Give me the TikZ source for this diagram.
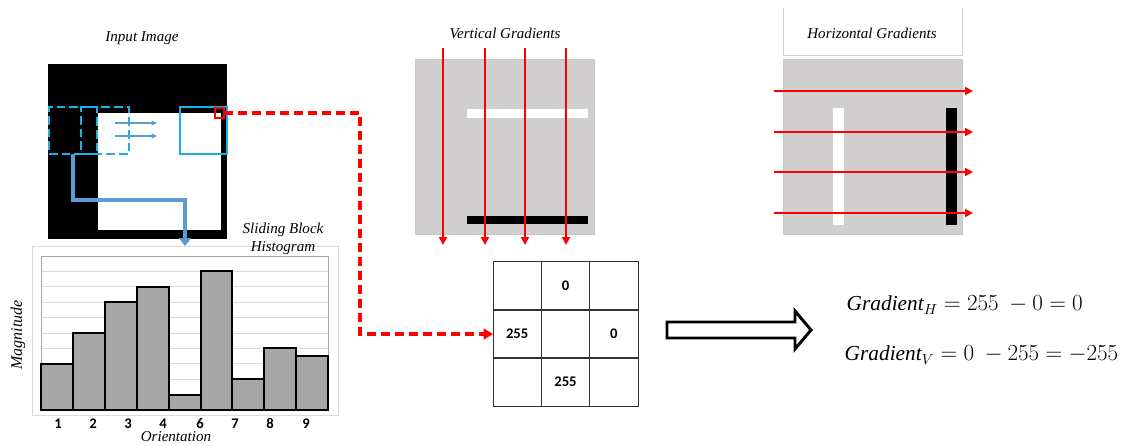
\documentclass[tikz,border=0pt]{standalone}
\usepackage{fontspec}
\setmainfont{Liberation Serif}
\newfontfamily\numfont{Carlito}
\usetikzlibrary{arrows.meta,fit}
\definecolor{cyanbox}{HTML}{1AB0EA}
\definecolor{steel}{HTML}{5B9BD5}
\definecolor{panelgray}{HTML}{D0CECE}
\definecolor{barfill}{HTML}{A6A6A6}
\definecolor{gridline}{HTML}{D9D9D9}

\begin{document}
\begin{tikzpicture}[x=0.75pt,y=-0.75pt,
  title/.style={font=\fontsize{11.3}{13.5}\selectfont\itshape},
  numlabel/.style={font=\numfont\bfseries\fontsize{11}{13}\selectfont},
  area/.style={inner sep=0pt, outer sep=0pt},
  redarrow/.style={red, line width=1.6pt, -{Triangle[length=6pt,width=6pt]}},
  window/.style={area, draw=cyanbox, line width=1.7pt},
  cell/.style={draw=black!80, line width=0.6pt, minimum size=36.2pt, inner sep=0pt, outer sep=0pt, numlabel},
  eq/.style={anchor=west, font=\fontsize{16}{19}\selectfont},
  ]
\useasboundingbox (0,0) rectangle (1124,446);

% ---------- input image ----------
\node[title] (tin) at (142,38) {Input Image};
\node[area, fit={(48,64)(227,239)}, fill=black] (inimg) {};
\node[area, fit={(98,113)(221,230)}, fill=white] (inwhite) {};
\node[window, dash pattern=on 6.5pt off 3pt, fit={(49,107)(97,154)}] (win1) {};
\node[window, dash pattern=on 6.5pt off 3pt, fit={(81,107)(129,154)}] (win2) {};
\node[window, fit={(180,107)(227,154)}] (win3) {};
\node[area, fit={(215,108)(224,118)}, draw=red, line width=1.2pt] (redpx) {};
\foreach \yy in {123,136}
  \draw[steel, line width=0.8pt, -{Triangle[length=4pt,width=3.5pt]}] (115,\yy) -- (157,\yy);

% ---------- histogram ----------
\node[area, fit={(32,246)(338,415)}, draw=gridline, line width=0.75pt] (histframe) {};
\foreach \k in {1,...,9}
  \draw[gridline, line width=0.75pt] (41,{410-\k*15.4}) -- (328,{410-\k*15.4});
\draw[gray!70, line width=0.6pt] (41,256) rectangle (328,410);
\foreach \h [count=\i from 0] in {3,5,7,8,1,9,2,4,3.5}
  \draw[fill=barfill, line width=1.5pt] ({41+\i*31.9},410) rectangle ({41+(\i+1)*31.9},{410-\h*15.4});
\foreach \lab/\xx in {1/58,2/93,3/128,4/163,6/200,7/235,8/270,9/306}
  \node[numlabel, anchor=base] (hl\lab) at (\xx,428) {\lab};
\node[title] (torient) at (176,437) {Orientation};
\node[title, rotate=90, font=\fontsize{12}{14}\selectfont\itshape] (tmag) at (18,335) {Magnitude};
\node[title, align=center] (thist) at (283,239) {Sliding Block\\Histogram};

% sliding window to histogram
\coordinate (bendB) at (185,200);
\draw[steel, line width=3pt, -{Triangle[length=6pt,width=9pt]}]
  (win1.south) |- (bendB) -- (bendB |- histframe.north);

% ---------- vertical gradients ----------
\node[title] (tvert) at (505,33) {Vertical Gradients};
\node[area, fit={(415,59)(594,234)}, fill=panelgray, draw=gray!45, line width=0.6pt] (vpanel) {};
\node[area, fit={(467,109)(588,118)}, fill=white] (vwhite) {};
\node[area, fit={(467,216)(588,224)}, fill=black] (vblack) {};
\foreach \xx in {443,485,525,566}
  \draw[redarrow] (\xx,48) -- (\xx,245);

% ---------- horizontal gradients ----------
\node[area, fit={(783,8)(962,55)}] (htbox) {};
\draw[gray!35, line width=0.6pt] (htbox.north west) -- (htbox.south west) -- (htbox.south east) -- (htbox.north east);
\node[title] (thor) at (872,33) {Horizontal Gradients};
\node[area, fit={(783,59)(962,234)}, fill=panelgray, draw=gray!45, line width=0.6pt] (hpanel) {};
\node[area, fit={(833,108)(844,225)}, fill=white] (hwhite) {};
\node[area, fit={(946,108)(957,225)}, fill=black] (hblack) {};
\foreach \yy in {91,132,172,213}
  \draw[redarrow] (774,\yy) -- (973,\yy);

% ---------- 3x3 neighbourhood ----------
\node[cell] (c11) at (517.2,286) {};
\node[cell] (c12) at (565.5,286) {0};
\node[cell] (c13) at (613.8,286) {};
\node[cell] (c21) at (517.2,334) {255};
\node[cell] (c22) at (565.5,334) {};
\node[cell] (c23) at (613.8,334) {0};
\node[cell] (c31) at (517.2,382) {};
\node[cell] (c32) at (565.5,382) {255};
\node[cell] (c33) at (613.8,382) {};

% pixel to neighbourhood
\coordinate (rbend) at (360,334);
\draw[red, line width=2.6pt, dash pattern=on 7pt off 3.5pt, -{Triangle[length=7pt,width=8pt]}]
  (redpx.east) -| (rbend) -- (c21.west);

% ---------- hollow arrow ----------
\draw[line width=2.2pt, fill=white, line join=miter]
  (667,322) -- (795,322) -- (795,311) -- (811,330) -- (795,349) -- (795,338) -- (667,338) -- cycle;

% ---------- results ----------
\node[eq] (eqH) at (842,305) {$\mathit{Gradient}_H = 255\ - 0 = 0$};
\node[eq] (eqV) at (840,355) {$\mathit{Gradient}_V = 0\ - 255 = -255$};
\end{tikzpicture}
\end{document}
